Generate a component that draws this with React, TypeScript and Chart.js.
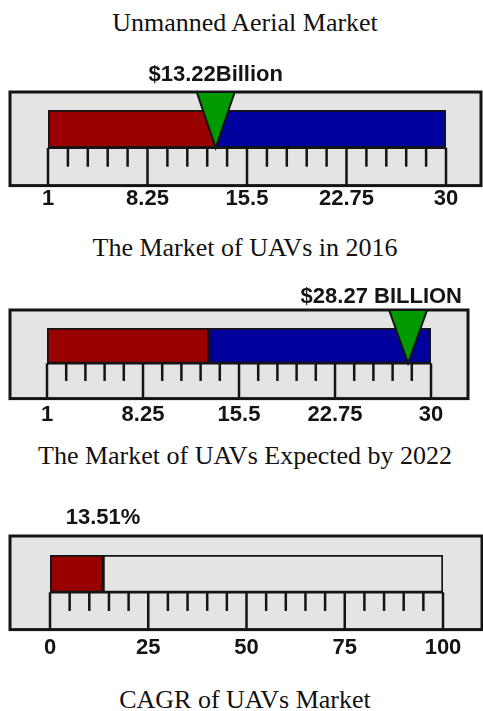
import React, { useEffect, useRef } from "react";
import { Chart, registerables } from "chart.js";

Chart.register(...registerables);

// ---------- data ----------
const TITLES = [
  "Unmanned Aerial Market",
  "The Market of UAVs in 2016",
  "The Market of UAVs Expected by 2022",
  "CAGR of UAVs Market",
];

// Gauge 1: market in 2016 (billion $)
const G1_TICKS = [1, 8.25, 15.5, 22.75, 30];
const G1_SEGMENTS: [number, number][] = [[1, 13.22], [13.22, 30]];
const G1_VALUE = 13.22;
const G1_LABEL = "$13.22Billion";

// Gauge 2: market expected by 2022 (billion $)
const G2_TICKS = [1, 8.25, 15.5, 22.75, 30];
const G2_SEGMENTS: [number, number][] = [[1, 13.22], [13.22, 30]];
const G2_VALUE = 28.27;
const G2_LABEL = "$28.27 BILLION";

// Gauge 3: CAGR (%)
const G3_TICKS = [0, 25, 50, 75, 100];
const G3_SEGMENTS: [number, number][] = [[0, 13.51], [13.51, 100]];
const G3_VALUE = 13.51;
const G3_LABEL = "13.51%";

const MINOR_DIVISIONS = 5;

// ---------- styles ----------
const RED = "#990000";
const BLUE = "#00009c";
const GREEN = "#009900";
const PANEL = "#e4e4e4";
const INK = "#141414";
const SANS = "'Liberation Sans', Arial, Helvetica, sans-serif";
const SERIF = "'Liberation Serif', 'Times New Roman', Times, serif";

type GaugeProps = {
  ticks: number[];
  segments: [number, number][];
  segColors: string[];
  value: number;
  label: string;
  marker: boolean;
  labelMode: "center" | "right";
  top: number;
  height: number;
  pad: { left: number; right: number; top: number; bottom: number };
  tickPad: number;
  frameLeft: number;
  frameRight: number;
  frameAbove: number;
  labelAbove: number;
};

function Gauge(p: GaugeProps) {
  const ref = useRef<HTMLCanvasElement | null>(null);
  useEffect(() => {
    const canvas = ref.current;
    if (!canvas) return;
    const decor = {
      id: "gaugeDecor",
      beforeDatasetsDraw(chart: any) {
        const ctx = chart.ctx;
        const a = chart.chartArea;
        const fTop = a.top - p.frameAbove;
        ctx.save();
        ctx.fillStyle = PANEL;
        ctx.fillRect(p.frameLeft, fTop, p.frameRight - p.frameLeft, a.bottom - fTop);
        ctx.strokeStyle = INK;
        ctx.lineWidth = 3;
        ctx.strokeRect(p.frameLeft, fTop, p.frameRight - p.frameLeft, a.bottom - fTop);
        ctx.restore();
      },
      afterDatasetsDraw(chart: any) {
        const ctx = chart.ctx;
        const a = chart.chartArea;
        const xs = chart.scales.x;
        const mid = (a.top + a.bottom) / 2;
        const fTop = a.top - p.frameAbove;
        ctx.save();
        ctx.strokeStyle = INK;
        ctx.lineWidth = 2.5;
        ctx.lineCap = "butt";
        // band top line
        ctx.beginPath();
        ctx.moveTo(a.left, mid);
        ctx.lineTo(a.right, mid);
        ctx.stroke();
        // major and minor ticks
        for (let i = 0; i < p.ticks.length; i++) {
          const x = xs.getPixelForValue(p.ticks[i]);
          ctx.beginPath();
          ctx.moveTo(x, mid);
          ctx.lineTo(x, a.bottom);
          ctx.stroke();
          if (i < p.ticks.length - 1) {
            const step = (p.ticks[i + 1] - p.ticks[i]) / MINOR_DIVISIONS;
            for (let k = 1; k < MINOR_DIVISIONS; k++) {
              const mx = xs.getPixelForValue(p.ticks[i] + step * k);
              ctx.beginPath();
              ctx.moveTo(mx, mid);
              ctx.lineTo(mx, mid + (a.bottom - mid) / 2);
              ctx.stroke();
            }
          }
        }
        // marker
        const vx = xs.getPixelForValue(p.value);
        if (p.marker) {
          ctx.beginPath();
          ctx.moveTo(vx - 19, fTop);
          ctx.lineTo(vx + 19, fTop);
          ctx.lineTo(vx, mid);
          ctx.closePath();
          ctx.fillStyle = GREEN;
          ctx.fill();
          ctx.lineWidth = 2;
          ctx.lineJoin = "miter";
          ctx.stroke();
        }
        // value label
        ctx.fillStyle = INK;
        ctx.font = `bold 22px ${SANS}`;
        ctx.textBaseline = "middle";
        if (p.labelMode === "center") {
          ctx.textAlign = "center";
          ctx.fillText(p.label, vx, a.top - p.labelAbove);
        } else {
          ctx.textAlign = "right";
          ctx.fillText(p.label, p.frameRight - 6, a.top - p.labelAbove);
        }
        ctx.restore();
      },
    };

    const datasets = p.segments.map((s, i) => ({
      label: "seg" + i,
      data: [s, null],
      backgroundColor: p.segColors[i],
      borderColor: INK,
      borderWidth: 2,
      borderSkipped: false,
      grouped: false,
      barPercentage: 1,
      categoryPercentage: 1,
    }));

    const chart = new Chart(canvas, {
      type: "bar",
      data: { labels: ["bar", "band"], datasets: datasets as any },
      options: {
        indexAxis: "y",
        animation: false,
        responsive: false,
        devicePixelRatio: 1,
        layout: { padding: p.pad },
        plugins: { legend: { display: false }, tooltip: { enabled: false } },
        scales: {
          y: { type: "category", display: false, offset: true },
          x: {
            type: "linear",
            min: p.ticks[0],
            max: p.ticks[p.ticks.length - 1],
            grid: { display: false, drawTicks: false },
            border: { display: false },
            afterBuildTicks: (axis: any) => {
              axis.ticks = p.ticks.map((v) => ({ value: v }));
            },
            ticks: {
              color: INK,
              padding: p.tickPad,
              maxRotation: 0,
              autoSkip: false,
              font: { family: SANS, size: 22, weight: "bold" },
              callback: (v: any) => String(v),
            },
          },
        },
      },
      plugins: [decor],
    } as any);
    return () => chart.destroy();
  }, []);
  return (
    <canvas
      ref={ref}
      width={483}
      height={p.height}
      style={{ position: "absolute", left: 0, top: p.top, width: 483, height: p.height }}
    />
  );
}

function Title({ text, top }: { text: string; top: number }) {
  return (
    <div
      style={{
        position: "absolute",
        left: 0,
        width: 490,
        top,
        textAlign: "center",
        fontFamily: SERIF,
        fontSize: 26,
        lineHeight: "30px",
        color: "#111",
        whiteSpace: "nowrap",
      }}
    >
      {text}
    </div>
  );
}

export default function App() {
  useEffect(() => {
    document.body.style.margin = "0";
  }, []);
  return (
    <div style={{ position: "relative", width: 483, height: 711, background: "#fff", overflow: "hidden" }}>
      <Title text={TITLES[0]} top={8} />
      <Gauge
        ticks={G1_TICKS}
        segments={G1_SEGMENTS}
        segColors={[RED, BLUE]}
        value={G1_VALUE}
        label={G1_LABEL}
        marker={true}
        labelMode="center"
        top={50}
        height={175}
        pad={{ left: 48, right: 37, top: 60, bottom: 13 }}
        tickPad={0}
        frameLeft={10}
        frameRight={481}
        frameAbove={18}
        labelAbove={35}
      />
      <Title text={TITLES[1]} top={233} />
      <Gauge
        ticks={G2_TICKS}
        segments={G2_SEGMENTS}
        segColors={[RED, BLUE]}
        value={G2_VALUE}
        label={G2_LABEL}
        marker={true}
        labelMode="right"
        top={275}
        height={165}
        pad={{ left: 47, right: 52, top: 53, bottom: 8 }}
        tickPad={3.5}
        frameLeft={10}
        frameRight={468}
        frameAbove={18}
        labelAbove={31}
      />
      <Title text={TITLES[2]} top={441} />
      <Gauge
        ticks={G3_TICKS}
        segments={G3_SEGMENTS}
        segColors={[RED, PANEL]}
        value={G3_VALUE}
        label={G3_LABEL}
        marker={false}
        labelMode="center"
        top={500}
        height={172}
        pad={{ left: 50, right: 40, top: 55, bottom: 6 }}
        tickPad={5}
        frameLeft={10}
        frameRight={482}
        frameAbove={19}
        labelAbove={37}
      />
      <Title text={TITLES[3]} top={685} />
    </div>
  );
}
